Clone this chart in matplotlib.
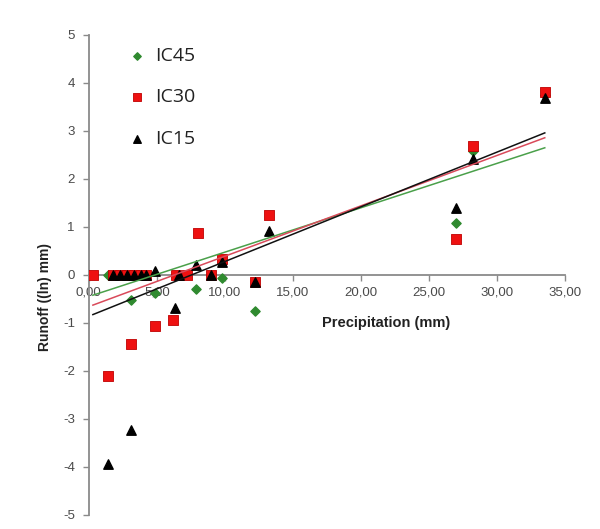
import matplotlib
matplotlib.use('Agg')
import numpy as np
import matplotlib.pyplot as plt
from matplotlib.ticker import FuncFormatter

plt.rcParams['font.family'] = ['Liberation Sans', 'DejaVu Sans']
plt.rcParams['axes.unicode_minus'] = False

# data
ic45_x = [1.4, 3.1, 4.9, 7.9, 9.75, 12.2, 27.0, 28.2, 33.5]
ic45_y = [0.0, -0.53, -0.38, -0.30, -0.06, -0.76, 1.09, 2.59, 3.75]

ic30_x = [0.3, 1.4, 1.8, 2.3, 2.8, 3.1, 3.3, 3.8, 4.2, 4.9, 6.2, 6.4, 7.2, 8.0,
          9.0, 9.75, 12.2, 13.25, 27.0, 28.2, 33.5]
ic30_y = [0.0, -2.11, 0.0, 0.0, 0.0, -1.43, 0.0, 0.0, 0.0, -1.07, -0.93, 0.0, 0.0, 0.87,
          0.0, 0.34, -0.15, 1.25, 0.74, 2.69, 3.81]

ic15_x = [1.4, 1.8, 2.3, 2.8, 3.1, 3.3, 3.8, 4.2, 4.9, 6.3, 6.6, 7.9, 9.0, 9.75,
          12.2, 13.25, 27.0, 28.2, 33.5]
ic15_y = [-3.93, 0.0, 0.0, 0.0, -3.24, 0.0, 0.0, 0.0, 0.09, -0.69, 0.0, 0.21, 0.0, 0.27,
          -0.15, 0.91, 1.39, 2.41, 3.69]

# linear trendlines (slope, intercept)
trend45 = (0.0925, -0.45)
trend30 = (0.105, -0.66)
trend15 = (0.114, -0.86)
trend_x = [0.3, 33.5]

labels = ['IC45', 'IC30', 'IC15']

fig = plt.figure(figsize=(6.0, 5.29), dpi=100)
ax = fig.add_axes([0.148, 0.0265, 0.794, 0.9075])

h45 = ax.scatter(ic45_x, ic45_y, marker='D', s=22, color='#2f8a2f', edgecolors='#2f8a2f', zorder=3)
h30 = ax.scatter(ic30_x, ic30_y, marker='s', s=52, color='#ee1111', edgecolors='#c00000',
                 linewidths=0.6, zorder=4)
h15 = ax.scatter(ic15_x, ic15_y, marker='^', s=46, color='black', zorder=5)

tx = np.array(trend_x)
ax.plot(tx, trend45[0] * tx + trend45[1], color='#4aa04a', lw=1.1, zorder=6)
ax.plot(tx, trend30[0] * tx + trend30[1], color='#d94a5a', lw=1.1, zorder=6)
ax.plot(tx, trend15[0] * tx + trend15[1], color='#111111', lw=1.1, zorder=6)

ax.set_xlim(0, 35)
ax.set_ylim(-5, 5)
ax.set_xticks(np.arange(0, 36, 5))
ax.set_yticks(np.arange(-5, 6, 1))
ax.xaxis.set_major_formatter(FuncFormatter(lambda v, p: ('%.2f' % v).replace('.', ',')))
ax.yaxis.set_major_formatter(FuncFormatter(lambda v, p: '%d' % v))

for s in ['top', 'right']:
    ax.spines[s].set_visible(False)
ax.spines['bottom'].set_position(('data', 0))
for s in ['left', 'bottom']:
    ax.spines[s].set_color('#8a8a8a')
    ax.spines[s].set_linewidth(1.3)
ax.tick_params(axis='both', colors='#8a8a8a', labelcolor='#4a4a4a', labelsize=9.5,
               length=4, width=1)
ax.tick_params(axis='y', pad=6)
ax.tick_params(axis='x', pad=4)

ax.set_ylabel('Runoff ((ln) mm)', fontsize=10, fontweight='bold', color='#222222')
ax.yaxis.set_label_coords(-0.078, 0.455)
fig.text(386 / 600, 1 - 323 / 529, 'Precipitation (mm)', fontsize=10.5, fontweight='bold',
         color='#222222', ha='center', va='center')

leg = ax.legend([h45, h30, h15], labels, loc='upper left', bbox_to_anchor=(0.043, 1.011),
                frameon=False, labelspacing=1.2, handlelength=1.0, handletextpad=0.45,
                prop={'family': ['Open Sans', 'DejaVu Sans'], 'size': 14},
                markerscale=0.8)
for t in leg.get_texts():
    t.set_color('#222222')

fig.savefig('out.png', dpi=100)
